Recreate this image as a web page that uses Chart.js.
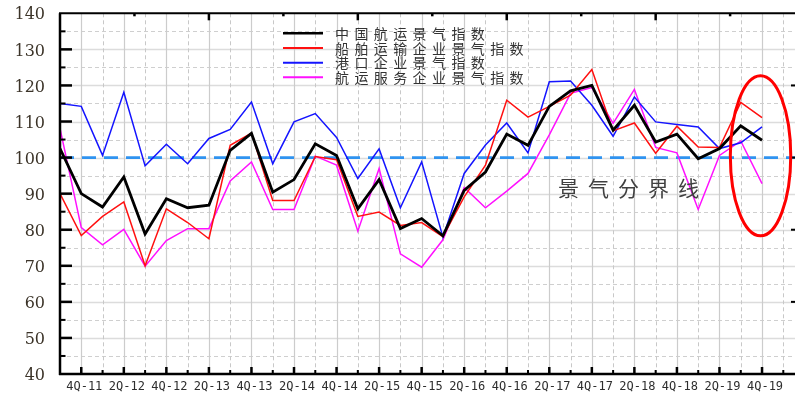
<!DOCTYPE html>
<html>
<head>
<meta charset="utf-8">
<script src="https://cdn.jsdelivr.net/npm/chart.js@4/dist/chart.umd.min.js"></script>
<style>
  html, body { margin: 0; padding: 0; background: #ffffff; }
  #wrap { width: 795px; height: 394px; position: relative; }
</style>
</head>
<body>
<div id="wrap"><canvas id="chart" width="795" height="394"></canvas></div>
<script>
// Quarterly shipping prosperity indices, 3Q-2011 .. 4Q-2019
const quarters = [
  '3Q-11','4Q-11','1Q-12','2Q-12','3Q-12','4Q-12','1Q-13','2Q-13','3Q-13','4Q-13',
  '1Q-14','2Q-14','3Q-14','4Q-14','1Q-15','2Q-15','3Q-15','4Q-15','1Q-16','2Q-16',
  '3Q-16','4Q-16','1Q-17','2Q-17','3Q-17','4Q-17','1Q-18','2Q-18','3Q-18','4Q-18',
  '1Q-19','2Q-19','3Q-19','4Q-19'
];

const seriesNames = ['中国航运景气指数', '船舶运输企业景气指数', '港口企业景气指数', '航运服务企业景气指数'];

const chinaShipping = [102.5,90,86.3,94.6,78.8,88.6,86.1,86.8,102,106.7,90.4,93.9,103.8,100.6,85.8,93.9,80.3,83.1,78.3,90.9,96,106.5,103.4,114.2,118.5,120,107.6,114.5,104.3,106.5,99.7,102.5,108.8,104.8];
const shipTransport = [90,78.4,83.7,87.7,70,85.8,82,77.5,103.4,106.8,88.1,88.1,100.3,99.4,83.7,84.9,81.2,82,78.1,89.1,97.9,115.9,111.2,114.2,117.3,124.4,107.4,109.6,101.2,108.7,102.9,102.8,115.3,111.1];
const portEnterprise = [115,114.2,100.6,118.1,97.7,103.7,98.3,105.3,107.8,115.4,98.3,109.9,112.2,105.6,94.2,102.4,86.1,98.8,77.9,95.6,103.5,109.6,101.3,121,121.2,114.5,105.9,116.8,109.9,109.2,108.5,102.5,104.1,108.5];
const shippingService = [108.1,80.6,75.8,80.1,69.9,77,80.3,80.3,93.5,98.8,85.6,85.6,100.4,97.9,79.6,97,73.3,69.6,77.2,91.7,86.1,90.7,95.6,106.3,117.8,119.4,109.5,118.9,102.8,101.3,85.6,100.6,104.6,92.8];

const yTicks = [40, 50, 60, 70, 80, 90, 100, 110, 120, 130, 140];
const boundaryValue = 100;          // 景气分界线
const boundaryLabel = '景气分界线';

// ellipse highlighting the latest quarter (value-space centre and radii)
const highlight = { x: 32.93, y: 100.5, rx: 1.42, ry: 22.2 };

const colors = ['#000000', '#ff1010', '#1414ff', '#ff10ff'];
const widths = [2.8, 1.5, 1.5, 1.5];
const allSeries = [chinaShipping, shipTransport, portEnterprise, shippingService];

const toPoints = arr => arr.map((v, i) => ({ x: i, y: v }));

const frame = {
  id: 'frame',
  beforeDatasetsDraw(chart) {
    const { ctx, chartArea: a, scales: { x, y } } = chart;
    ctx.save();
    // horizontal grid: solid on tens, dashed on fives
    for (let v = 45; v < 140; v += 5) {
      const py = Math.round(y.getPixelForValue(v)) + 0.5;
      ctx.beginPath();
      if (v % 10 === 0) { ctx.setLineDash([]); ctx.strokeStyle = '#dcdcdc'; ctx.lineWidth = 1.5; }
      else { ctx.setLineDash([4, 3]); ctx.strokeStyle = '#cfcfcf'; ctx.lineWidth = 1; }
      ctx.moveTo(a.left, py); ctx.lineTo(a.right, py); ctx.stroke();
    }
    // vertical grid: solid on labelled quarters, dashed between
    for (let i = 1; i <= 34; i++) {
      const px = Math.round(x.getPixelForValue(i)) + 0.5;
      ctx.beginPath();
      if (i % 2 === 1) { ctx.setLineDash([]); ctx.strokeStyle = '#cccccc'; ctx.lineWidth = 1.2; }
      else { ctx.setLineDash([4, 3]); ctx.strokeStyle = '#c8c8c8'; ctx.lineWidth = 1; }
      ctx.moveTo(px, a.top); ctx.lineTo(px, a.bottom); ctx.stroke();
    }
    // boundary line at 100
    const by = y.getPixelForValue(boundaryValue);
    ctx.beginPath();
    ctx.setLineDash([14, 8]);
    ctx.strokeStyle = '#2f93f0';
    ctx.lineWidth = 2.6;
    ctx.moveTo(a.left, by); ctx.lineTo(a.right, by); ctx.stroke();
    ctx.restore();
  },
  afterDatasetsDraw(chart) {
    const { ctx, chartArea: a, scales: { x, y } } = chart;
    ctx.save();
    ctx.setLineDash([]);
    ctx.strokeStyle = '#000';
    ctx.lineCap = 'butt';

    // left axis with inward ticks
    ctx.lineWidth = 2.5;
    ctx.beginPath(); ctx.moveTo(a.left, a.top); ctx.lineTo(a.left, a.bottom + 1); ctx.stroke();
    for (let v = 45; v < 140; v += 5) {
      const py = y.getPixelForValue(v);
      const major = v % 10 === 0;
      ctx.lineWidth = major ? 2.5 : 2;
      ctx.beginPath(); ctx.moveTo(a.left, py); ctx.lineTo(a.left + (major ? 12 : 5.5), py); ctx.stroke();
    }
    // bottom axis with inward ticks
    ctx.lineWidth = 2.5;
    ctx.beginPath(); ctx.moveTo(a.left - 1, a.bottom); ctx.lineTo(a.right, a.bottom); ctx.stroke();
    for (let i = 1; i <= 34; i++) {
      const px = x.getPixelForValue(i);
      const major = i % 2 === 1;
      ctx.lineWidth = major ? 2.5 : 2;
      ctx.beginPath(); ctx.moveTo(px, a.bottom); ctx.lineTo(px, a.bottom - (major ? 7 : 4)); ctx.stroke();
    }
    // top border with its own ticks
    ctx.lineWidth = 2;
    ctx.beginPath(); ctx.moveTo(a.left - 1, a.top); ctx.lineTo(a.right, a.top); ctx.stroke();
    for (let k = 1; k <= 9; k++) {
      const px = x.getPixelForValue(k * 3.5);
      ctx.lineWidth = 2.5;
      ctx.beginPath(); ctx.moveTo(px, a.top); ctx.lineTo(px, a.top + (k % 2 === 0 ? 7 : 3)); ctx.stroke();
    }
    // right-side ticks
    [60, 80, 100, 120].forEach(v => {
      const py = y.getPixelForValue(v);
      ctx.lineWidth = 2;
      ctx.beginPath(); ctx.moveTo(a.right, py); ctx.lineTo(a.right - 4, py); ctx.stroke();
    });

    // highlight ellipse
    const cx = x.getPixelForValue(highlight.x);
    const cy = y.getPixelForValue(highlight.y);
    const rx = Math.abs(x.getPixelForValue(highlight.x + highlight.rx) - cx);
    const ry = Math.abs(y.getPixelForValue(highlight.y + highlight.ry) - cy);
    ctx.strokeStyle = '#ff0000';
    ctx.lineWidth = 3;
    ctx.beginPath(); ctx.ellipse(cx, cy, rx, ry, 0, 0, Math.PI * 2); ctx.stroke();

    // boundary caption
    ctx.fillStyle = '#404040';
    ctx.font = '21px "Noto Sans CJK SC"';
    ctx.textBaseline = 'middle';
    ctx.textAlign = 'left';
    try { ctx.letterSpacing = '9px'; } catch (e) {}
    ctx.fillText(boundaryLabel, 558, 188);

    // legend
    ctx.font = '14px "Noto Sans CJK SC"';
    try { ctx.letterSpacing = '5.4px'; } catch (e) {}
    ctx.fillStyle = '#333333';
    seriesNames.forEach((name, i) => {
      const ly = 33.3 + i * 14.67;
      ctx.strokeStyle = colors[i];
      ctx.lineWidth = i === 0 ? 2.5 : 2;
      ctx.beginPath(); ctx.moveTo(283, ly); ctx.lineTo(323, ly); ctx.stroke();
      ctx.fillText(name, 335, ly + 0.5);
    });
    try { ctx.letterSpacing = '0px'; } catch (e) {}
    ctx.restore();
  }
};

// keep the plot box fixed: no label-overflow padding around the scales
const noOverflow = ax => { ax.paddingTop = 0; ax.paddingBottom = 0; ax.paddingLeft = 0; ax.paddingRight = 0; };

new Chart(document.getElementById('chart'), {
  type: 'line',
  data: {
    datasets: allSeries.map((arr, i) => ({
      label: seriesNames[i],
      data: toPoints(arr),
      borderColor: colors[i],
      borderWidth: widths[i],
      pointRadius: 0,
      pointHitRadius: 0,
      pointHoverRadius: 0,
      tension: 0,
      fill: false
    }))
  },
  options: {
    responsive: false,
    animation: false,
    devicePixelRatio: 1,
    layout: { autoPadding: false, padding: { top: 13.3, right: 0, left: 0, bottom: 0 } },
    plugins: { legend: { display: false }, tooltip: { enabled: false } },
    scales: {
      x: {
        type: 'linear',
        min: 0,
        max: 34.55,
        afterBuildTicks: ax => { ax.ticks = quarters.map((q, i) => ({ value: i })); },
        afterFit: ax => { ax.height = 20; noOverflow(ax); },
        grid: { display: false, drawTicks: false },
        border: { display: false },
        ticks: {
          autoSkip: false,
          maxRotation: 0,
          minRotation: 0,
          padding: 6,
          labelOffset: 3,
          color: '#2e2e2e',
          font: { family: 'DejaVu Sans Mono', size: 12 },
          callback: v => (Number.isInteger(v) && v % 2 === 1) ? quarters[v] : ''
        }
      },
      y: {
        min: 40,
        max: 140,
        afterBuildTicks: ax => { ax.ticks = yTicks.map(v => ({ value: v })); },
        afterFit: ax => { ax.width = 60; noOverflow(ax); },
        grid: { display: false, drawTicks: false },
        border: { display: false },
        ticks: {
          padding: 15,
          labelOffset: 2,
          color: '#3b3328',
          font: { family: 'DejaVu Serif', size: 16 }
        }
      }
    }
  },
  plugins: [frame]
});
</script>
</body>
</html>
